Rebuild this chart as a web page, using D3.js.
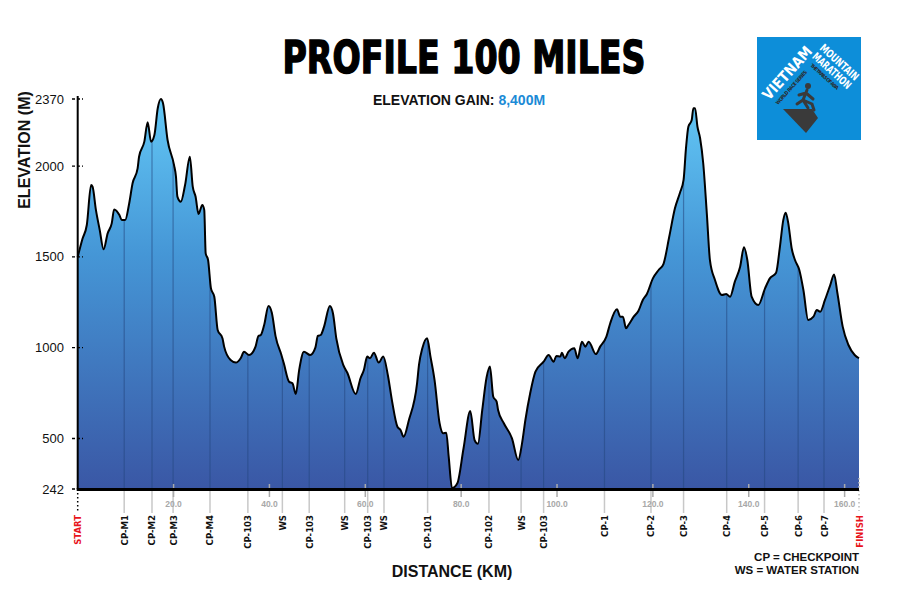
<!DOCTYPE html>
<html>
<head>
<meta charset="utf-8">
<script src="https://cdn.jsdelivr.net/npm/d3@7"></script>
<style>
  body { margin: 0; background: #fff; }
  svg { display: block; }
</style>
</head>
<body>
<div id="chart"></div>
<script>
// profile points (km, metres)
const distKm = [0, 1.0, 1.9, 2.8, 3.1, 3.8, 4.6, 5.4, 6.25, 7.1, 7.6, 8.7, 9.2, 9.9, 10.75, 11.45, 12.5, 12.8, 13.9, 14.6,
  15.3, 16.0, 16.7, 17.35, 17.8, 18.75, 20.1, 20.5, 20.8, 21.5, 22.4, 23.4, 24.0, 24.6, 25.2, 26.0, 26.4, 26.7, 27.2, 27.8,
  28.5, 29.2, 30.2, 30.55, 31.9, 33.0, 34.0, 34.7, 35.75, 37.1, 37.7, 38.2, 38.9, 39.8, 40.5, 41.3, 42.5, 43.0, 44.1, 44.8,
  45.5, 46.2, 47.2, 48.5, 49.6, 50.1, 50.7, 51.4, 52.6, 53.25, 53.95, 55.4, 56.25, 58.0, 59.0, 59.7, 60.4, 61.0, 61.8, 62.8,
  63.75, 64.7, 65.6, 66.7, 67.35, 68.0, 69.1, 70.8, 71.2, 71.9, 72.9, 73.6, 74.45, 75.5, 76.25, 76.9, 77.4, 78.1, 79.2, 80.5,
  81.9, 82.8, 83.5, 84.4, 85.3, 86.0, 86.7, 87.4, 87.7, 88.9, 90.6, 91.9, 92.7, 93.4, 94.4, 95.5, 97.2, 98.25, 99.3, 99.85,
  100.7, 101.0, 101.6, 102.4, 103.6, 104.3, 105.2, 105.9, 106.6, 108.1, 109.0, 110.3, 111.1, 112.5, 113.2, 113.75, 114.4, 114.9, 116.0, 117.0,
  117.9, 118.75, 120.0, 121.2, 122.2, 123.4, 124.6, 125.65, 126.4, 126.9, 127.4, 128.1, 128.45, 128.8, 129.3, 129.85, 130.5, 131.25, 131.9, 132.95,
  134.4, 135.3, 136.1, 137.1, 138.2, 139.0, 139.7, 140.6, 142.0, 143.4, 144.4, 145.7, 146.5, 147.2, 147.7, 148.25, 148.95, 149.65, 150.55, 151.4,
  152.4, 153.5, 154.2, 154.9, 155.9, 157.0, 157.8, 158.5, 159.6, 160.8, 162.1, 163.0];
const elevM = [1500, 1600, 1676, 1896, 1887, 1759, 1648, 1542, 1630, 1685, 1762, 1731, 1703, 1703, 1796, 1906, 1988, 2052, 2135, 2242,
  2135, 2172, 2319, 2370, 2346, 2144, 2006, 1942, 1832, 1804, 1896, 2052, 1887, 1832, 1737, 1786, 1759, 1520, 1483, 1327,
  1281, 1098, 1052, 1006, 932, 918, 942, 978, 960, 1006, 1065, 1070, 1125, 1230, 1193, 1061, 960, 914, 813, 804,
  745, 877, 978, 960, 1002, 1065, 1070, 1116, 1230, 1190, 1052, 905, 862, 745, 832, 877, 951, 942, 973, 918,
  951, 850, 703, 565, 547, 510, 602, 804, 905, 997, 1052, 951, 822, 584, 529, 532, 407, 246, 271, 450,
  651, 492, 473, 657, 836, 896, 730, 703, 657, 584, 501, 390, 475, 602, 749, 868, 923, 960, 923, 955,
  951, 973, 942, 978, 997, 942, 1033, 1006, 1033, 965, 1006, 1061, 1135, 1212, 1171, 1171, 1107, 1125, 1171, 1204,
  1263, 1296, 1382, 1428, 1461, 1610, 1768, 1854, 1924, 2098, 2217, 2254, 2319, 2319, 2217, 2154, 2016, 1740, 1483, 1373,
  1290, 1296, 1281, 1364, 1446, 1553, 1483, 1281, 1235, 1327, 1382, 1413, 1556, 1703, 1744, 1685, 1548, 1483, 1428, 1318,
  1153, 1171, 1208, 1198, 1263, 1345, 1404, 1300, 1116, 1015, 960, 942];

// stations along the course
const stationNames = ["START", "CP-M1", "CP-M2", "CP-M3", "CP-M4", "CP-103", "WS", "CP-103", "WS", "CP-103", "WS", "CP-101",
  "CP-102", "WS", "CP-103", "CP-1", "CP-2", "CP-3", "CP-4", "CP-5", "CP-6", "CP-7", "FINISH"];
const stationKm = [0, 9.7, 15.5, 19.9, 27.6, 35.5, 42.7, 48.3, 55.7, 60.5, 63.9, 73.0,
  85.8, 92.5, 97.2, 109.9, 119.6, 126.4, 135.4, 143.3, 150.3, 155.7, 163.0];

const yTicks = [242, 500, 1000, 1500, 2000, 2370];
const xTicks = [20, 40, 60, 80, 100, 120, 140, 160];

const data = distKm.map((d, i) => ({ km: d, elev: elevM[i] }));

let width = 900;
let height = 600;

let svg = d3.select('#chart')
  .append('svg')
  .attr('width', width)
  .attr('height', height)
  .style('font-family', '"Liberation Sans", Arial, sans-serif');

const narrow = '"Liberation Sans Narrow", "DejaVu Sans Condensed", sans-serif';

// scales
let xScale = d3.scaleLinear()
  .domain([0, 163])
  .range([77.7, 859]);

// the original axis is not quite linear near the bottom
let yScale = d3.scaleLinear()
  .domain([242, 500, 2370])
  .range([489, 438.5, 99]);

const defs = svg.append('defs');

const grad = defs.append('linearGradient')
  .attr('id', 'fillGrad')
  .attr('gradientUnits', 'userSpaceOnUse')
  .attr('x1', 0).attr('x2', 0)
  .attr('y1', yScale(2370)).attr('y2', yScale(242));
grad.append('stop').attr('offset', '0%').attr('stop-color', '#63c8f6');
grad.append('stop').attr('offset', '40%').attr('stop-color', '#4596d6');
grad.append('stop').attr('offset', '100%').attr('stop-color', '#3a57a5');

const area = d3.area()
  .x(d => xScale(d.km))
  .y0(yScale(242))
  .y1(d => yScale(d.elev))
  .curve(d3.curveMonotoneX);

const line = d3.line()
  .x(d => xScale(d.km))
  .y(d => yScale(d.elev))
  .curve(d3.curveMonotoneX);

defs.append('clipPath')
  .attr('id', 'areaClip')
  .append('path')
  .attr('d', area(data));

// filled profile
svg.append('path')
  .datum(data)
  .attr('fill', 'url(#fillGrad)')
  .attr('d', area);

// station lines inside the profile
svg.append('g')
  .attr('clip-path', 'url(#areaClip)')
  .selectAll('line')
  .data(stationKm.slice(1, -1))
  .enter()
  .append('line')
  .attr('x1', d => xScale(d))
  .attr('x2', d => xScale(d))
  .attr('y1', yScale(2370))
  .attr('y2', yScale(242))
  .attr('stroke', '#24477f')
  .attr('stroke-opacity', 0.55)
  .attr('stroke-width', 1.2);

svg.append('path')
  .datum(data)
  .attr('fill', 'none')
  .attr('stroke', '#000')
  .attr('stroke-width', 2)
  .attr('stroke-linejoin', 'round')
  .attr('d', line);

// station lines below the axis
svg.append('g')
  .selectAll('line')
  .data(stationKm.slice(1, -1))
  .enter()
  .append('line')
  .attr('x1', d => xScale(d))
  .attr('x2', d => xScale(d))
  .attr('y1', yScale(242))
  .attr('y2', 513)
  .attr('stroke', '#c8c8c8')
  .attr('stroke-width', 1.5);

// dotted start / finish markers
svg.append('line')
  .attr('x1', xScale(0)).attr('x2', xScale(0))
  .attr('y1', yScale(242)).attr('y2', 511)
  .attr('stroke', '#000').attr('stroke-width', 1.5)
  .attr('stroke-dasharray', '1.5,2.5');
svg.append('line')
  .attr('x1', xScale(163)).attr('x2', xScale(163))
  .attr('y1', 478).attr('y2', 511)
  .attr('stroke', '#bbb').attr('stroke-width', 1.5)
  .attr('stroke-dasharray', '1.5,2.5');

// km ticks
const xAxis = svg.append('g');
xAxis.selectAll('line')
  .data(xTicks)
  .enter()
  .append('line')
  .attr('x1', d => xScale(d)).attr('x2', d => xScale(d))
  .attr('y1', 484).attr('y2', 497)
  .attr('stroke', '#aaa').attr('stroke-width', 1.5);
xAxis.selectAll('text')
  .data(xTicks)
  .enter()
  .append('text')
  .attr('x', d => xScale(d))
  .attr('y', 507)
  .attr('text-anchor', 'middle')
  .attr('font-size', 8.5)
  .attr('font-weight', 'bold')
  .attr('fill', '#a8a8a8')
  .text(d => d.toFixed(1));

// axis lines
svg.append('line')
  .attr('x1', xScale(0) - 1).attr('x2', xScale(163))
  .attr('y1', yScale(242) + 0.5).attr('y2', yScale(242) + 0.5)
  .attr('stroke', '#000').attr('stroke-width', 3);
svg.append('line')
  .attr('x1', xScale(0)).attr('x2', xScale(0))
  .attr('y1', 96).attr('y2', yScale(242))
  .attr('stroke', '#000').attr('stroke-width', 2);

// y ticks
const yAxis = svg.append('g');
yAxis.selectAll('line')
  .data(yTicks)
  .enter()
  .append('line')
  .attr('x1', 72).attr('x2', 83)
  .attr('y1', d => yScale(d)).attr('y2', d => yScale(d))
  .attr('stroke', '#000').attr('stroke-width', 1.3)
  .attr('stroke-dasharray', '3,2');
yAxis.selectAll('text')
  .data(yTicks)
  .enter()
  .append('text')
  .attr('x', 64)
  .attr('y', d => yScale(d) + 4.5)
  .attr('text-anchor', 'end')
  .attr('font-size', 13)
  .attr('fill', '#111')
  .text(d => d);

// station labels
svg.append('g')
  .selectAll('text')
  .data(stationNames)
  .enter()
  .append('text')
  .attr('transform', (d, i) => `translate(${xScale(stationKm[i]) + 3.5}, 515) rotate(-90)`)
  .attr('text-anchor', 'end')
  .attr('font-family', narrow)
  .attr('font-size', 9.5)
  .attr('font-weight', 'bold')
  .attr('fill', d => (d === 'START' || d === 'FINISH') ? '#e8141c' : '#111')
  .text(d => d);

// axis titles
svg.append('text')
  .attr('transform', 'translate(30, 150) rotate(-90)')
  .attr('text-anchor', 'middle')
  .attr('font-size', 16)
  .attr('font-weight', 'bold')
  .attr('fill', '#111')
  .text('ELEVATION (M)');

svg.append('text')
  .attr('x', 452)
  .attr('y', 577)
  .attr('text-anchor', 'middle')
  .attr('font-size', 16)
  .attr('font-weight', 'bold')
  .attr('fill', '#111')
  .text('DISTANCE (KM)');

// legend
svg.append('text')
  .attr('x', 859).attr('y', 561)
  .attr('text-anchor', 'end')
  .attr('font-size', 11.5).attr('font-weight', 'bold')
  .attr('fill', '#111')
  .text('CP = CHECKPOINT');
svg.append('text')
  .attr('x', 859).attr('y', 574)
  .attr('text-anchor', 'end')
  .attr('font-size', 11.5).attr('font-weight', 'bold')
  .attr('fill', '#111')
  .text('WS = WATER STATION');

// title
svg.append('text')
  .attr('x', 464)
  .attr('y', 73)
  .attr('text-anchor', 'middle')
  .attr('font-family', narrow)
  .attr('font-size', 44)
  .attr('font-weight', 'bold')
  .attr('textLength', 363)
  .attr('lengthAdjust', 'spacingAndGlyphs')
  .attr('fill', '#000')
  .attr('stroke', '#000')
  .attr('stroke-width', 1.4)
  .text('PROFILE 100 MILES');

const sub = svg.append('text')
  .attr('x', 459)
  .attr('y', 105)
  .attr('text-anchor', 'middle')
  .attr('font-size', 14)
  .attr('font-weight', 'bold')
  .attr('fill', '#111');
sub.append('tspan').text('ELEVATION GAIN: ');
sub.append('tspan').attr('fill', '#1b8ad6').text('8,400M');

// logo
const logo = svg.append('g');
logo.append('rect')
  .attr('x', 757).attr('y', 37)
  .attr('width', 104).attr('height', 103)
  .attr('fill', '#0d8ed9');
logo.append('polygon')
  .attr('points', '783,109 812,109 818,118 806,133')
  .attr('fill', '#3a3a3a');
logo.append('circle')
  .attr('cx', 808).attr('cy', 86).attr('r', 3)
  .attr('fill', '#3a3a3a');
logo.append('path')
  .attr('d', 'M807,90 L803,100 L797,104 M803,100 L808,108 M806,93 L813,99 M806,93 L799,95 M803,100 L812,104 L814,110')
  .attr('fill', 'none')
  .attr('stroke', '#3a3a3a')
  .attr('stroke-width', 3)
  .attr('stroke-linecap', 'round');
logo.append('text')
  .attr('transform', 'translate(769, 101) rotate(-48)')
  .attr('font-family', narrow)
  .attr('font-size', 15).attr('font-weight', 'bold')
  .attr('textLength', 66)
  .attr('lengthAdjust', 'spacingAndGlyphs')
  .attr('fill', '#fff')
  .text('VIETNAM');
logo.append('text')
  .attr('transform', 'translate(778, 105) rotate(-48)')
  .attr('font-family', narrow)
  .attr('font-size', 5).attr('font-weight', 'bold')
  .attr('textLength', 44)
  .attr('fill', '#2b2b2b')
  .text('WORLD RACE SERIES');
logo.append('text')
  .attr('transform', 'translate(819, 49) rotate(42)')
  .attr('font-family', narrow)
  .attr('font-size', 11).attr('font-weight', 'bold')
  .attr('textLength', 48)
  .attr('lengthAdjust', 'spacingAndGlyphs')
  .attr('fill', '#fff')
  .text('MOUNTAIN');
logo.append('text')
  .attr('transform', 'translate(811.5, 57.5) rotate(42)')
  .attr('font-family', narrow)
  .attr('font-size', 11).attr('font-weight', 'bold')
  .attr('textLength', 48)
  .attr('lengthAdjust', 'spacingAndGlyphs')
  .attr('fill', '#fff')
  .text('MARATHON');
logo.append('text')
  .attr('transform', 'translate(810, 66) rotate(42)')
  .attr('font-family', narrow)
  .attr('font-size', 5).attr('font-weight', 'bold')
  .attr('textLength', 36)
  .attr('fill', '#2b2b2b')
  .text('THE TRAILS OF ASIA');
</script>
</body>
</html>
